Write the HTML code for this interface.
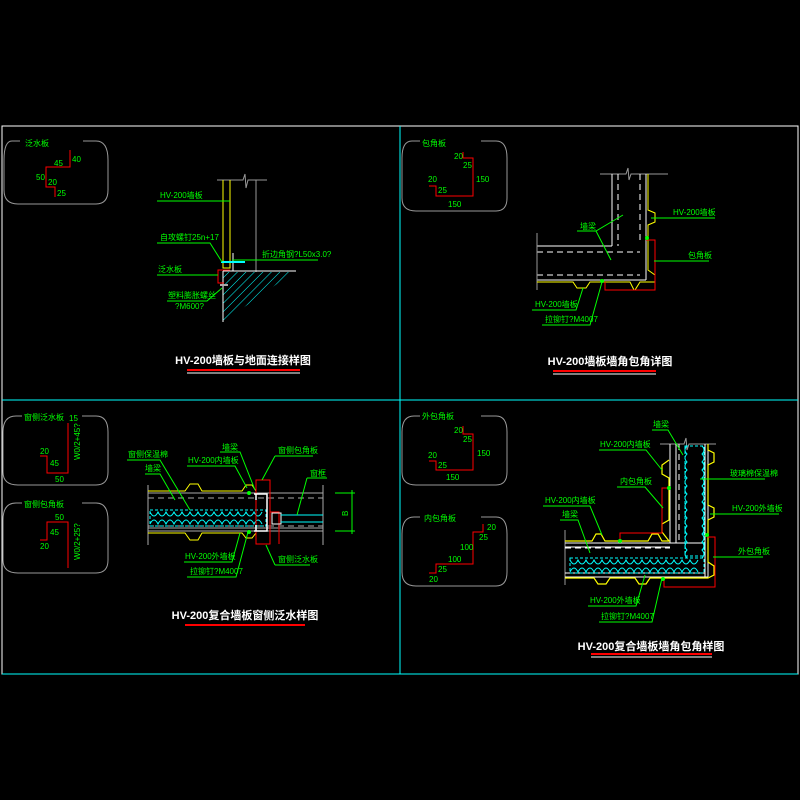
<!DOCTYPE html>
<html><head><meta charset="utf-8"><style>
html,body{margin:0;padding:0;background:#000;}
svg{display:block}
text{font-family:"Liberation Sans","Noto Sans CJK SC",sans-serif;}
.g{fill:#00ff00;font-size:8px}
.t{fill:#fff;font-size:11px;font-weight:bold}
</style></head><body>
<svg width="800" height="800" viewBox="0 0 800 800" xmlns="http://www.w3.org/2000/svg">
<rect width="800" height="800" fill="#000"/>
<!-- frame -->
<path d="M2 126H798V674H2Z" fill="none" stroke="#fff" stroke-width="1"/>
<line x1="400" y1="126" x2="400" y2="674" stroke="#00ffff"/>
<line x1="2" y1="400" x2="798" y2="400" stroke="#00ffff"/>
<line x1="2" y1="674" x2="798" y2="674" stroke="#00ffff"/>

<g fill="none" stroke="#999" stroke-width="1">
<!-- rounded boxes -->
<path d="M20 141 H12 Q4 141 4 160 V190 Q4 204 18 204 H96 Q108 204 108 190 V160 Q108 141 96 141 H83"/>
<path d="M420 141 H412 Q402 141 402 158 V198 Q402 211 416 211 H496 Q507 211 507 198 V158 Q507 141 496 141 H481"/>
<path d="M22 416 H16 Q3 416 3 432 V472 Q3 485 18 485 H96 Q108 485 108 472 V432 Q108 416 96 416 H82"/>
<path d="M22 503 H16 Q3 503 3 520 V560 Q3 573 18 573 H96 Q108 573 108 560 V520 Q108 503 96 503 H82"/>
<path d="M420 416 H414 Q402 416 402 432 V472 Q402 485 416 485 H496 Q507 485 507 472 V432 Q507 416 496 416 H481"/>
<path d="M420 517 H414 Q402 517 402 534 V572 Q402 586 416 586 H496 Q507 586 507 572 V534 Q507 517 496 517 H481"/>
</g>

<!-- ============ Q1 ============ -->
<text class="g" x="25" y="146">泛水板</text>
<path d="M70 150V167H46V187H55V197" fill="none" stroke="#f00"/>
<text class="g" x="54" y="166">45</text><text class="g" x="72" y="162">40</text>
<text class="g" x="36" y="180">50</text><text class="g" x="48" y="185">20</text><text class="g" x="57" y="196">25</text>
<path d="M217 180H243L245 174L246 188L248 180H267" fill="none" stroke="#999"/>
<line x1="256" y1="180" x2="256" y2="272" stroke="#999"/>
<path d="M223 180V268H230V180" fill="none" stroke="#ff0"/>
<path d="M233 253V271" stroke="#fff"/>
<line x1="221" y1="262" x2="245" y2="262" stroke="#0ff" stroke-width="2"/>
<line x1="223" y1="271" x2="296" y2="271" stroke="#fff"/>
<defs><pattern id="h1" width="6" height="6" patternUnits="userSpaceOnUse" patternTransform="rotate(45)"><line x1="0" y1="0" x2="0" y2="6" stroke="#0ff" stroke-width="1"/></pattern></defs>
<path d="M223 272H294L223 322Z" fill="url(#h1)"/>
<line x1="223" y1="271" x2="223" y2="322" stroke="#fff"/>
<path d="M230 270H218V283H224" fill="none" stroke="#f00"/>
<line x1="220" y1="285" x2="228" y2="285" stroke="#aaa" stroke-width="2"/>
<g stroke="#00ff00" fill="none">
<path d="M157 201H230"/>
<path d="M157 243H210L222 262"/>
<path d="M232 260H318"/>
<path d="M157 275H218"/>
<path d="M167 301H207L222 288"/>
</g>
<text class="g" x="160" y="198">HV-200墙板</text>
<text class="g" x="160" y="240">自攻螺钉25n+17</text>
<text class="g" x="262" y="257">折边角钢?L50x3.0?</text>
<text class="g" x="158" y="272">泛水板</text>
<text class="g" x="168" y="298">塑料膨胀螺丝</text>
<text class="g" x="175" y="309">?M600?</text>
<text class="t" x="243" y="364" text-anchor="middle">HV-200墙板与地面连接样图</text>
<line x1="187" y1="370" x2="300" y2="370" stroke="#f00" stroke-width="2"/>
<line x1="187" y1="373" x2="300" y2="373" stroke="#fff"/>

<!-- ============ Q2 ============ -->
<text class="g" x="422" y="146">包角板</text>
<path d="M463 152V158H473V196H436V186H429" fill="none" stroke="#f00"/>
<text class="g" x="454" y="159">20</text><text class="g" x="463" y="168">25</text><text class="g" x="476" y="182">150</text>
<text class="g" x="428" y="182">20</text><text class="g" x="438" y="193">25</text><text class="g" x="448" y="207">150</text>
<path d="M600 174H626L628 168L629 180L631 174H668" fill="none" stroke="#999"/>
<g stroke="#fff" fill="none">
<path d="M612 174V246M646 174V280M537 246H612M537 280H646"/>
</g>
<g stroke="#fff" stroke-dasharray="6,4" fill="none">
<path d="M618 174V246M640 174V240M537 252H640M537 275H640"/>
</g>
<line x1="537" y1="233" x2="537" y2="290" stroke="#999"/>
<path d="M648 174V210L655 213V222L648 225V270L655 275V282L645 282H645 M645 282H640L635 290H634L630 282H590L586 288H577L573 282H537" fill="none" stroke="#ff0"/>
<path d="M646 240H655V290H605V282" fill="none" stroke="#f00"/>
<circle cx="647" cy="238" r="2" fill="#0f0"/><circle cx="602" cy="281" r="2" fill="#0f0"/>
<g stroke="#00ff00" fill="none">
<path d="M651 218H715"/><path d="M654 261H709"/>
<path d="M577 231H596L623 215M596 231L611 260"/>
<path d="M532 310H576L583 288"/>
<path d="M542 325H590L602 282"/>
</g>
<text class="g" x="673" y="215">HV-200墙板</text>
<text class="g" x="688" y="258">包角板</text>
<text class="g" x="580" y="229">墙梁</text>
<text class="g" x="535" y="307">HV-200墙板</text>
<text class="g" x="545" y="322">拉铆钉?M4007</text>
<text class="t" x="610" y="365" text-anchor="middle">HV-200墙板墙角包角详图</text>
<line x1="553" y1="371" x2="656" y2="371" stroke="#f00" stroke-width="2"/>
<line x1="553" y1="374" x2="656" y2="374" stroke="#fff"/>

<!-- ============ Q3 ============ -->
<text class="g" x="24" y="420">窗侧泛水板</text>
<path d="M68 423V473H47V456H40" fill="none" stroke="#f00"/>
<text class="g" x="69" y="421">15</text>
<text class="g" transform="translate(80,460) rotate(-90)">W0/2+45?</text>
<text class="g" x="40" y="454">20</text><text class="g" x="50" y="466">45</text><text class="g" x="55" y="482">50</text>
<text class="g" x="24" y="507">窗侧包角板</text>
<path d="M40 540H47V522H68V568" fill="none" stroke="#f00"/>
<text class="g" x="55" y="520">50</text><text class="g" x="50" y="535">45</text><text class="g" x="40" y="549">20</text>
<text class="g" transform="translate(80,560) rotate(-90)">W0/2+25?</text>
<g stroke="#aaa" fill="none">
<path d="M148 493H323M148 528H323M148 531H323M148 485V545M323 485V545"/>
</g>
<path d="M148 498H323M148 526H323" stroke="#aaa" stroke-dasharray="6,4"/>
<rect x="150" y="510" width="116" height="16" fill="none" stroke="#0ff" stroke-dasharray="3,2"/>
<path d="M150 512 q4 8 8 0 q4 8 8 0 q4 8 8 0 q4 8 8 0 q4 8 8 0 q4 8 8 0 q4 8 8 0 q4 8 8 0 q4 8 8 0 q4 8 8 0 q4 8 8 0 q4 8 8 0 q4 8 8 0 q4 8 8 0 M150 524 q4 -8 8 0 q4 -8 8 0 q4 -8 8 0 q4 -8 8 0 q4 -8 8 0 q4 -8 8 0 q4 -8 8 0 q4 -8 8 0 q4 -8 8 0 q4 -8 8 0 q4 -8 8 0 q4 -8 8 0 q4 -8 8 0 q4 -8 8 0" fill="none" stroke="#0ff"/>
<path d="M148 491H185L190 484H198L202 491H242L246 485H252L256 491" fill="none" stroke="#ff0"/>
<path d="M148 533H185L190 540H198L202 533H242L246 538H252L256 533" fill="none" stroke="#ff0"/>
<path d="M256 480H270V544H256Z M270 512H279V544" fill="none" stroke="#f00"/>
<path d="M254 494H267V531H254 M256 494V500 M256 525V531" fill="none" stroke="#fff" stroke-width="1.5"/>
<rect x="272" y="513" width="9" height="11" fill="none" stroke="#fff"/>
<path d="M281 515H323M281 522H323" stroke="#0ff"/>
<circle cx="249" cy="493" r="2" fill="#0f0"/><circle cx="249" cy="532" r="2" fill="#0f0"/>
<g stroke="#00ff00" fill="none">
<path d="M335 493H355M335 531H355M352 490V534"/>
<path d="M127 460H160L190 510"/><path d="M145 474H160L175 500"/>
<path d="M187 466H235L247 488"/><path d="M220 452H240L255 490"/>
<path d="M275 456H313M275 456L262 480"/><path d="M307 478H327M307 478L297 515"/>
<path d="M184 562H232L240 533"/><path d="M187 577H236L248 532"/>
<path d="M275 565H310M275 565L266 545"/>
</g>
<text class="g" transform="translate(348,516) rotate(-90)">B</text>
<text class="g" x="128" y="457">窗侧保温棉</text>
<text class="g" x="145" y="471">墙梁</text>
<text class="g" x="188" y="463">HV-200内墙板</text>
<text class="g" x="222" y="450">墙梁</text>
<text class="g" x="278" y="453">窗侧包角板</text>
<text class="g" x="310" y="476">窗框</text>
<text class="g" x="185" y="559">HV-200外墙板</text>
<text class="g" x="190" y="574">拉铆钉?M4007</text>
<text class="g" x="278" y="562">窗侧泛水板</text>
<text class="t" x="245" y="619" text-anchor="middle">HV-200复合墙板窗侧泛水样图</text>
<line x1="185" y1="625" x2="305" y2="625" stroke="#f00" stroke-width="2"/>

<!-- ============ Q4 ============ -->
<text class="g" x="422" y="419">外包角板</text>
<path d="M463 426V434H473V470H436V461H429" fill="none" stroke="#f00"/>
<text class="g" x="454" y="433">20</text><text class="g" x="463" y="442">25</text><text class="g" x="477" y="456">150</text>
<text class="g" x="428" y="458">20</text><text class="g" x="438" y="468">25</text><text class="g" x="446" y="480">150</text>
<text class="g" x="424" y="521">内包角板</text>
<path d="M483 524V532H473V564H436V573H429" fill="none" stroke="#f00"/>
<text class="g" x="487" y="530">20</text><text class="g" x="479" y="540">25</text><text class="g" x="460" y="550">100</text>
<text class="g" x="448" y="562">100</text><text class="g" x="438" y="572">25</text><text class="g" x="429" y="582">20</text>
<path d="M660 444H684L686 438L687 450L689 444H716" fill="none" stroke="#999"/>
<line x1="565" y1="530" x2="565" y2="585" stroke="#999"/>
<g stroke="#fff" fill="none">
<path d="M670 444V543M676 444V543M705 444V577M708 444V577M565 543H705M565 547H670M565 573H705M565 577H708"/>
</g>
<path d="M679 444V543M565 548H670" stroke="#fff" stroke-dasharray="6,4"/>
<rect x="685" y="446" width="19" height="110" fill="none" stroke="#0ff" stroke-dasharray="3,2"/>
<path d="M687 446 q-4 4 0 8 q-4 4 0 8 q-4 4 0 8 q-4 4 0 8 q-4 4 0 8 q-4 4 0 8 q-4 4 0 8 q-4 4 0 8 q-4 4 0 8 q-4 4 0 8 q-4 4 0 8 q-4 4 0 8 q-4 4 0 8 q-4 4 0 8 M702 446 q4 4 0 8 q4 4 0 8 q4 4 0 8 q4 4 0 8 q4 4 0 8 q4 4 0 8 q4 4 0 8 q4 4 0 8 q4 4 0 8 q4 4 0 8 q4 4 0 8 q4 4 0 8 q4 4 0 8 q4 4 0 8" fill="none" stroke="#0ff"/>
<rect x="570" y="558" width="134" height="15" fill="none" stroke="#0ff" stroke-dasharray="3,2"/>
<path d="M570 560 q4 8 8 0 q4 8 8 0 q4 8 8 0 q4 8 8 0 q4 8 8 0 q4 8 8 0 q4 8 8 0 q4 8 8 0 q4 8 8 0 q4 8 8 0 q4 8 8 0 q4 8 8 0 q4 8 8 0 q4 8 8 0 q4 8 8 0 q4 8 8 0 M570 572 q4 -8 8 0 q4 -8 8 0 q4 -8 8 0 q4 -8 8 0 q4 -8 8 0 q4 -8 8 0 q4 -8 8 0 q4 -8 8 0 q4 -8 8 0 q4 -8 8 0 q4 -8 8 0 q4 -8 8 0 q4 -8 8 0 q4 -8 8 0 q4 -8 8 0 q4 -8 8 0" fill="none" stroke="#0ff"/>
<path d="M708 444V450L714 453V462L708 465V505L714 508V517L708 520V562L714 566V575L708 578H650L646 584H639L635 578H610L606 584H598L594 578H565" fill="none" stroke="#ff0" stroke-width="1.2"/>
<path d="M669 460L662 465V474L669 478V520L662 524V532L669 541H662L658 534H652L648 541H605L601 534H596L592 541H565" fill="none" stroke="#ff0" stroke-width="1.2"/>
<path d="M670 488H662V533H620V541" fill="none" stroke="#f00"/>
<path d="M707 537H715V587H664V578" fill="none" stroke="#f00"/>
<circle cx="669" cy="488" r="2" fill="#0f0"/><circle cx="620" cy="541" r="2" fill="#0f0"/><circle cx="707" cy="535" r="2" fill="#0f0"/><circle cx="663" cy="579" r="2" fill="#0f0"/>
<g stroke="#00ff00" fill="none">
<path d="M652 430H668L683 455"/>
<path d="M599 450H646L662 470"/>
<path d="M617 487H645L663 508"/>
<path d="M543 506H590L602 535"/>
<path d="M560 520H578L590 553"/>
<path d="M700 479H765"/><path d="M710 514H779"/><path d="M713 557H763"/>
<path d="M588 606H636L645 575"/>
<path d="M599 622H652L662 578"/>
</g>
<text class="g" x="653" y="427">墙梁</text>
<text class="g" x="600" y="447">HV-200内墙板</text>
<text class="g" x="620" y="484">内包角板</text>
<text class="g" x="545" y="503">HV-200内墙板</text>
<text class="g" x="562" y="517">墙梁</text>
<text class="g" x="730" y="476">玻璃棉保温棉</text>
<text class="g" x="732" y="511">HV-200外墙板</text>
<text class="g" x="738" y="554">外包角板</text>
<text class="g" x="590" y="603">HV-200外墙板</text>
<text class="g" x="601" y="619">拉铆钉?M4007</text>
<text class="t" x="651" y="650" text-anchor="middle">HV-200复合墙板墙角包角样图</text>
<line x1="591" y1="654" x2="712" y2="654" stroke="#f00" stroke-width="2"/>
<line x1="591" y1="657" x2="712" y2="657" stroke="#fff"/>
</svg>
</body></html>
